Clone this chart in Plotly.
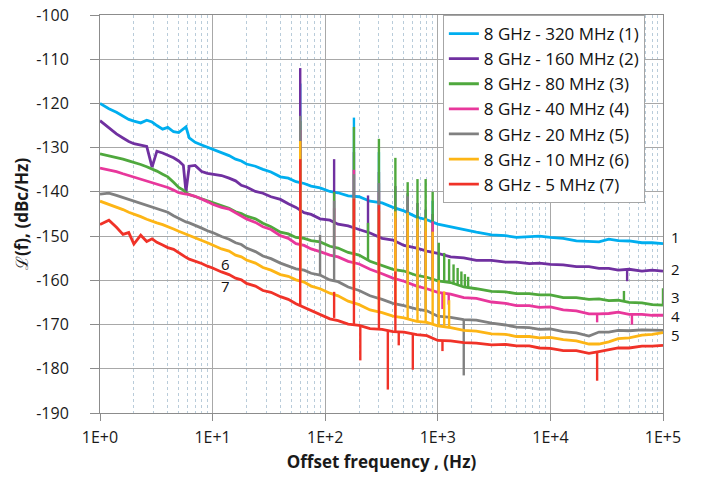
import plotly.graph_objects as go

# ---------------- data ----------------
freq = [1, 1.2, 1.4, 1.6, 1.8, 2, 2.3, 2.6, 2.9, 3.2, 3.6, 4, 4.5, 5, 5.5, 5.8, 6.2, 7, 8, 9,
        10, 12, 14, 16, 18, 20, 24, 28, 33, 40, 47, 55, 65, 75, 90, 110, 130, 160, 200, 250,
        320, 400, 500, 650, 800, 1000, 1300, 1700, 2200, 3000, 4000, 5000, 6500, 8000, 10000,
        13000, 17000, 22000, 27000, 33000, 40000, 50000, 65000, 80000, 100000]

s1 = [-120.0, -121.2, -122.0, -122.8, -123.6, -124.0, -124.4, -123.8, -124.2, -125.0, -125.8, -125.4, -126.4, -126.6, -125.8, -125.3, -127.8, -128.8, -129.4, -129.9,
      -130.3, -131.2, -131.8, -132.6, -133.0, -133.7, -134.2, -134.9, -135.5, -136.6, -136.9, -137.7, -138.1, -138.7, -139.1, -139.9, -140.2, -140.9, -141.1, -142.1,
      -142.5, -143.5, -144.3, -145.7, -146.3, -147.3, -147.9, -148.6, -149.1, -149.7, -149.9, -150.3, -150.1, -150.0, -150.3,
      -150.5, -151.1, -151.2, -151.3, -150.7, -151.0, -151.1, -151.5, -151.5, -151.7]
s2 = [-123.9, -125.5, -126.9, -127.8, -128.6, -129.1, -129.5, -129.7, -134.4, -130.8, -131.2, -131.7, -132.3, -133.0, -134.0, -140.0, -134.2, -134.0, -135.4, -135.8,
      -136.0, -136.3, -136.9, -137.5, -138.5, -138.9, -139.9, -140.3, -141.1, -141.7, -142.7, -143.5, -144.7, -145.1, -146.1, -146.4, -147.3, -147.7, -148.5, -149.3,
      -150.5, -150.9, -152.1, -152.7, -153.4, -153.9, -154.7, -154.9, -155.5, -155.5, -155.9, -155.9, -156.2, -156.1, -156.4,
      -156.5, -156.9, -156.9, -157.3, -157.3, -157.7, -157.5, -157.9, -157.7, -157.9]
s3 = [-131.4, -131.8, -132.2, -132.6, -133.0, -133.3, -133.8, -134.3, -134.8, -135.3, -136.0, -136.6, -137.8, -139.0, -139.6, -140.2, -140.6, -141.0, -141.6, -142.0,
      -142.4, -143.1, -143.7, -144.5, -144.9, -145.5, -146.1, -147.1, -147.9, -149.1, -149.5, -150.3, -150.5, -151.0, -151.3, -152.3, -152.7, -153.7, -154.3, -155.7,
      -156.7, -157.5, -157.9, -158.9, -159.3, -160.1, -160.5, -161.5, -161.9, -162.5, -162.6, -163.0, -163.0, -163.3, -163.3,
      -163.9, -163.9, -164.3, -164.2, -164.6, -164.5, -165.0, -165.1, -165.5, -165.6]
s4 = [-134.6, -135.0, -135.4, -135.9, -136.3, -136.6, -137.0, -137.4, -137.8, -138.2, -138.6, -139.0, -139.6, -140.2, -140.4, -140.5, -140.6, -141.0, -141.6, -142.2,
      -142.8, -143.5, -143.9, -144.7, -145.3, -146.1, -146.9, -147.9, -148.5, -149.9, -150.5, -151.7, -152.1, -152.9, -153.5, -154.3, -154.7, -155.7, -156.3, -157.5,
      -158.5, -159.5, -160.2, -161.3, -161.9, -162.7, -163.1, -163.9, -164.1, -164.9, -165.2, -165.7, -165.7, -166.1, -166.0,
      -166.7, -166.9, -167.6, -167.6, -167.5, -167.2, -167.7, -167.7, -167.9, -167.9]
s5 = [-140.5, -140.3, -140.8, -141.3, -141.7, -142.1, -142.6, -143.0, -143.4, -143.8, -144.2, -144.6, -145.4, -146.0, -146.5, -146.8, -147.0, -147.5, -148.2, -148.8,
      -149.2, -150.1, -150.7, -151.5, -151.9, -152.7, -153.5, -154.5, -155.1, -156.1, -156.7, -157.4, -157.7, -158.4, -158.8, -159.9, -160.3, -161.5, -162.3, -163.5,
      -164.3, -165.2, -165.7, -166.5, -166.9, -168.1, -168.4, -168.9, -169.0, -169.7, -170.1, -170.6, -170.7, -171.1, -171.0,
      -171.6, -171.9, -172.6, -171.7, -171.7, -171.3, -171.4, -171.2, -171.3, -171.3]
s6 = [-142.1, -142.8, -143.4, -144.0, -144.6, -145.0, -145.6, -146.2, -146.7, -147.0, -147.4, -147.8, -148.4, -148.9, -149.3, -149.6, -149.9, -150.4, -151.0, -151.5,
      -152.0, -152.9, -153.4, -154.3, -154.7, -155.4, -156.1, -157.1, -157.7, -158.7, -159.1, -159.9, -160.4, -161.3, -161.9, -162.9, -163.5, -164.7, -165.5, -166.7,
      -167.3, -168.1, -168.5, -169.3, -169.5, -170.3, -170.7, -171.3, -171.5, -172.1, -172.2, -172.7, -172.7, -173.0, -172.9,
      -173.4, -173.7, -174.4, -174.4, -173.9, -173.2, -173.0, -172.4, -172.2, -171.8]
s7 = [-147.4, -146.4, -148.0, -149.6, -149.2, -151.8, -149.8, -151.2, -150.6, -151.4, -152.0, -152.6, -153.0, -153.8, -154.4, -154.8, -155.2, -155.6, -156.2, -156.8,
      -157.2, -158.1, -158.7, -159.5, -159.9, -160.7, -161.3, -162.3, -162.7, -163.7, -164.3, -165.3, -166.1, -166.9, -167.7, -168.7, -169.1, -169.9, -170.2, -170.9,
      -171.1, -171.6, -171.7, -172.3, -172.5, -173.6, -173.7, -174.1, -174.2, -174.6, -174.5, -174.8, -174.8, -175.3, -175.4,
      -175.9, -175.9, -176.5, -176.1, -175.7, -175.3, -175.3, -174.9, -174.9, -174.7]

# spurs: frequency, spur tip, curve level at the spur
sp1_f = [60, 180, 300, 900]
sp1_top = [-115.5, -123.2, -131.0, -142.0]
sp1_base = [-137.6, -141.2, -142.6, -146.8]

sp2_f = [60, 120, 180, 240, 300, 420, 540, 660, 780, 900, 48000]
sp2_top = [-112.0, -132.6, -131.0, -140.8, -135.5, -138.7, -140.3, -142.5, -144.0, -145.0, -160.2]
sp2_base = [-143.8, -146.8, -148.2, -149.2, -150.2, -151.0, -152.0, -152.6, -153.2, -153.8, -157.6]

sp3_f = [60, 120, 180, 240, 300, 420, 540, 660, 780, 900, 1020, 1140, 1260, 1380, 1500, 1620, 1740, 1860, 45000, 100000]
sp3_top = [-124.0, -140.0, -125.3, -147.0, -128.0, -132.3, -137.8, -137.1, -137.1, -140.0, -151.5, -153.8, -155.2, -156.4, -157.2, -158.0, -158.6, -159.2, -162.4, -161.8]
sp3_base = [-150.4, -152.4, -154.0, -155.3, -156.6, -157.5, -158.1, -158.8, -159.3, -159.7, -160.0, -160.3, -160.6, -160.9, -161.1, -161.3, -161.4, -161.6, -164.7, -165.6]

sp4_f = [60, 120, 180, 300, 420, 540, 660, 780, 900, 1100, 1250, 26000, 53000]
sp4_top = [-126.0, -143.7, -135.0, -140.0, -146.0, -147.0, -148.0, -149.0, -146.7, -166.5, -165.5, -169.5, -170.0]
sp4_base = [-151.8, -154.4, -156.2, -158.5, -159.6, -160.4, -161.1, -161.9, -162.3, -162.8, -163.0, -167.6, -167.6]

sp5_f = [60, 90, 120, 180, 300, 540, 660, 780, 1700]
sp5_top = [-122.8, -149.7, -142.0, -136.0, -138.0, -141.0, -148.0, -150.0, -181.5]
sp5_base = [-157.6, -158.9, -159.9, -162.0, -164.3, -165.9, -166.4, -167.0, -168.8]

sp6_f = [60, 180, 300, 420, 540, 660, 780, 900, 1020, 1140, 1260]
sp6_top = [-128.5, -141.5, -144.4, -144.4, -144.7, -146.0, -146.0, -149.0, -160.0, -162.5, -164.5]
sp6_base = [-160.2, -165.4, -167.2, -168.0, -168.6, -169.2, -169.6, -170.0, -170.3, -170.5, -170.8]

sp7_f = [60, 120, 180, 205, 300, 360, 420, 450, 600, 1100, 26000]
sp7_top = [-132.6, -162.6, -141.5, -178.1, -143.0, -184.7, -158.0, -174.7, -180.2, -176.0, -182.7]
sp7_base = [-165.6, -168.5, -170.2, -170.3, -171.1, -171.4, -171.5, -171.6, -172.1, -173.6, -176.2]

names = ["8 GHz - 320 MHz (1)", "8 GHz - 160 MHz (2)", "8 GHz - 80 MHz (3)", "8 GHz - 40 MHz (4)",
         "8 GHz - 20 MHz (5)", "8 GHz - 10 MHz (6)", "8 GHz - 5 MHz (7)"]
colors = ["#00AEEF", "#7030A0", "#4FA83D", "#E8379B", "#808080", "#FDB515", "#F03228"]

xtick_vals = [1, 10, 100, 1000, 10000, 100000]
xtick_text = ["1E+0", "1E+1", "1E+2", "1E+3", "1E+4", "1E+5"]
ytick_vals = [-100, -110, -120, -130, -140, -150, -160, -170, -180, -190]
ytick_text = ["-100", "-110", "-120", "-130", "-140", "-150", "-160", "-170", "-180", "-190"]

curve_labels = ["1", "2", "3", "4", "5", "6", "7"]
label_y = [-150.3, -157.4, -163.8, -168.1, -172.4, -156.3, -161.3]

# ---------------- figure ----------------
series = [s1, s2, s3, s4, s5, s6, s7]
spurs = [(sp1_f, sp1_top, sp1_base), (sp2_f, sp2_top, sp2_base), (sp3_f, sp3_top, sp3_base),
         (sp4_f, sp4_top, sp4_base), (sp5_f, sp5_top, sp5_base), (sp6_f, sp6_top, sp6_base),
         (sp7_f, sp7_top, sp7_base)]

fig = go.Figure()
for i, (vals, (sf, st, sb)) in enumerate(zip(series, spurs)):
    fig.add_trace(go.Scatter(x=freq, y=vals, mode="lines", name=names[i], legendgroup=str(i),
                             line=dict(color=colors[i], width=2.8)))
    xs, ys = [], []
    for f, t, b in zip(sf, st, sb):
        xs += [f, f, None]
        ys += [b, t, None]
    fig.add_trace(go.Scatter(x=xs, y=ys, mode="lines", showlegend=False, legendgroup=str(i),
                             line=dict(color=colors[i], width=2.4), hoverinfo="skip"))

font_main = "Open Sans, Noto Sans, sans-serif"
for k in range(5):
    fig.add_annotation(x=1.023, xref="paper", y=label_y[k], yref="y", text=curve_labels[k],
                       showarrow=False, xanchor="center", height=16, borderpad=0,
                       font=dict(size=15, color="#111", family=font_main))
for k in range(5, 7):
    fig.add_annotation(x=1.111, xref="x", y=label_y[k], yref="y", text=curve_labels[k],
                       showarrow=False, xanchor="center", height=16, borderpad=0,
                       font=dict(size=15, color="#111", family=font_main))

fig.update_layout(
    width=713, height=479,
    margin=dict(l=100, r=50, t=15, b=66),
    paper_bgcolor="white", plot_bgcolor="white",
    font=dict(family=font_main, size=16, color="#1a1a1a"),
    showlegend=True,
    legend=dict(x=0.609, y=1.0, xanchor="left", yanchor="top", bgcolor="white",
                bordercolor="#A6A6A6", borderwidth=1, font=dict(size=17, color="#111"),
                itemwidth=30, tracegroupgap=0),
    xaxis=dict(type="log", range=[0, 5], tickvals=xtick_vals, ticktext=xtick_text,
               showgrid=True, gridcolor="#A8A8A8", gridwidth=1,
               showline=True, linecolor="#8C8C8C", linewidth=1, mirror=True,
               ticks="outside", ticklen=7, tickcolor="#8C8C8C", ticklabelstandoff=3,
               minor=dict(dtick="D1", showgrid=True, gridcolor="#B9CCDA", griddash="3px,3px", gridwidth=1, ticks=""),
               title=dict(text="<b>Offset frequency , (Hz)</b>", font=dict(size=17), standoff=8),
               zeroline=False, tickfont=dict(size=16), automargin=False),
    yaxis=dict(range=[-190, -100], tickvals=ytick_vals, ticktext=ytick_text,
               showgrid=True, gridcolor="#A8A8A8", gridwidth=1,
               showline=True, linecolor="#8C8C8C", linewidth=1, mirror=True,
               ticks="outside", ticklen=9, tickcolor="#8C8C8C", ticklabelstandoff=18,
               title=dict(text="<b>ℒ(f), (dBc/Hz)</b>", font=dict(size=17), standoff=3),
               zeroline=False, tickfont=dict(size=16), automargin=False),
)

# remove the browser's default page margin so the 713x479 figure fills the window exactly
fig.write_html("out.html", config={"displayModeBar": False},
               post_script="document.body.style.margin='0px';")
